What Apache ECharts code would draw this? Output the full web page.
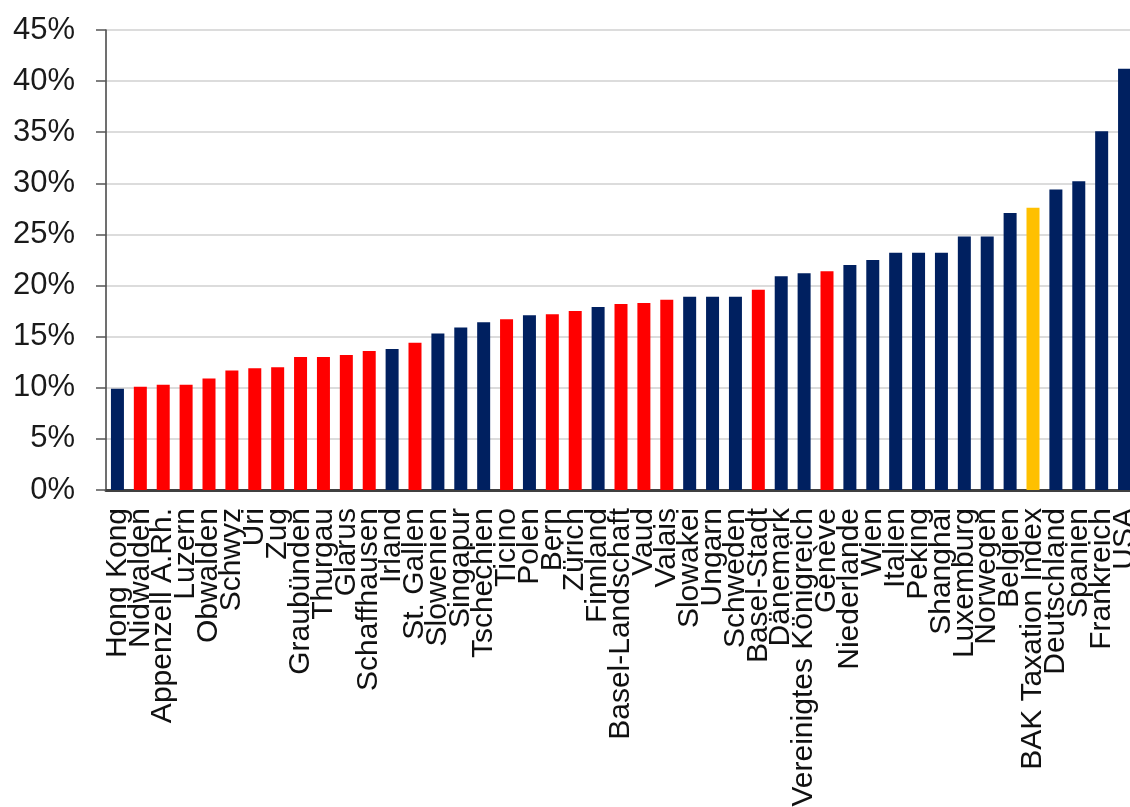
<!DOCTYPE html>
<html>
<head>
<meta charset="utf-8">
<script src="https://cdn.jsdelivr.net/npm/echarts@6/dist/echarts.min.js"></script>
<style>
  html, body { margin: 0; padding: 0; background: #ffffff; }
  #chart { width: 1130px; height: 807px; }
</style>
</head>
<body>
<div id="chart"></div>
<script>
// Effektive Steuerbelastung, sortiert aufsteigend
const categories = [
  'Hong Kong', 'Nidwalden', 'Appenzell A.Rh.', 'Luzern', 'Obwalden', 'Schwyz', 'Uri', 'Zug',
  'Graubünden', 'Thurgau', 'Glarus', 'Schaffhausen', 'Irland', 'St. Gallen', 'Slowenien',
  'Singapur', 'Tschechien', 'Ticino', 'Polen', 'Bern', 'Zürich', 'Finnland', 'Basel-Landschaft',
  'Vaud', 'Valais', 'Slowakei', 'Ungarn', 'Schweden', 'Basel-Stadt', 'Dänemark',
  'Vereinigtes Königreich', 'Genève', 'Niederlande', 'Wien', 'Italien', 'Peking', 'Shanghai',
  'Luxemburg', 'Norwegen', 'Belgien', 'BAK Taxation Index', 'Deutschland', 'Spanien',
  'Frankreich', 'USA'
];

const values = [
  9.9, 10.1, 10.3, 10.3, 10.9, 11.7, 11.9, 12.0,
  13.0, 13.0, 13.2, 13.6, 13.8, 14.4, 15.3,
  15.9, 16.4, 16.7, 17.1, 17.2, 17.5, 17.9, 18.2,
  18.3, 18.6, 18.9, 18.9, 18.9, 19.6, 20.9,
  21.2, 21.4, 22.0, 22.5, 23.2, 23.2, 23.2,
  24.8, 24.8, 27.1, 27.6, 29.4, 30.2,
  35.1, 41.2
];

// K = Schweizer Kanton, I = internationaler Standort, B = Durchschnittsindex
const groups = [
  'I', 'K', 'K', 'K', 'K', 'K', 'K', 'K',
  'K', 'K', 'K', 'K', 'I', 'K', 'I',
  'I', 'I', 'K', 'I', 'K', 'K', 'I', 'K',
  'K', 'K', 'I', 'I', 'I', 'K', 'I',
  'I', 'K', 'I', 'I', 'I', 'I', 'I',
  'I', 'I', 'I', 'B', 'I', 'I',
  'I', 'I'
];

const yTicks = { min: 0, max: 45, interval: 5 };

const groupColors = { I: '#002060', K: '#ff0000', B: '#ffc000' };

const chart = echarts.init(document.getElementById('chart'), null, { renderer: 'canvas' });

chart.setOption({
  animation: false,
  backgroundColor: '#ffffff',
  grid: {
    left: 106, top: 30, width: 1030, height: 460,
    containLabel: false,
    outerBoundsMode: 'none'
  },
  xAxis: {
    type: 'category',
    data: categories,
    boundaryGap: true,
    axisLine: { show: true, lineStyle: { color: '#404040', width: 3 } },
    axisTick: { show: false },
    axisLabel: {
      interval: 0,
      rotate: 90,
      margin: 18,
      color: '#111111',
      fontFamily: 'Liberation Sans, Arial, sans-serif',
      fontSize: 30
    },
    splitLine: { show: false }
  },
  yAxis: {
    type: 'value',
    min: yTicks.min,
    max: yTicks.max,
    interval: yTicks.interval,
    axisLine: { show: true, lineStyle: { color: '#404040', width: 1.5 } },
    axisTick: { show: true, inside: false, length: 10, lineStyle: { color: '#555555', width: 1.5 } },
    axisLabel: {
      formatter: '{value}%',
      margin: 31,
      color: '#1a1a1a',
      fontFamily: 'Liberation Sans, Arial, sans-serif',
      fontSize: 31
    },
    splitLine: { show: true, lineStyle: { color: '#dcdcdc', width: 2 } }
  },
  series: [{
    type: 'bar',
    barWidth: 13,
    data: values.map((v, i) => ({
      value: v,
      itemStyle: { color: groupColors[groups[i]] }
    }))
  }]
});
</script>
</body>
</html>
